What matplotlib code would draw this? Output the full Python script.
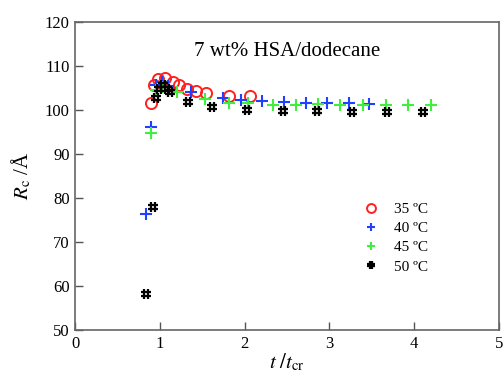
import matplotlib
matplotlib.use('Agg')
import matplotlib.pyplot as plt
from matplotlib.path import Path

plt.rcParams['font.family'] = ['Liberation Serif', 'DejaVu Serif']
plt.rcParams['mathtext.fontset'] = 'stix'

# 35 C
t35 = [0.90, 0.93, 0.98, 1.06, 1.16, 1.22, 1.32, 1.43, 1.54, 1.81, 2.06]
r35 = [101.5, 105.8, 107.0, 107.3, 106.4, 105.7, 104.9, 104.4, 103.8, 103.3, 103.3]
# 40 C
t40 = [0.84, 0.90, 0.96, 1.02, 1.10, 1.37, 1.74, 1.96, 2.21, 2.47, 2.72, 2.97, 3.23, 3.47]
r40 = [76.3, 96.2, 105.7, 106.4, 105.4, 104.2, 102.7, 102.3, 102.0, 101.9, 101.5, 101.7, 101.5, 101.3]
# 45 C
t45 = [0.90, 0.96, 1.02, 1.20, 1.53, 1.81, 2.04, 2.34, 2.61, 2.87, 3.12, 3.40, 3.67, 3.93, 4.20]
r45 = [94.7, 104.5, 105.2, 104.2, 102.4, 101.5, 101.5, 101.1, 101.1, 101.4, 101.1, 101.1, 101.1, 101.1, 101.1]
# 50 C
t50 = [0.84, 0.92, 0.95, 0.99, 1.04, 1.08, 1.12, 1.33, 1.62, 2.03, 2.45, 2.85, 3.27, 3.68, 4.10]
r50 = [58.2, 78.0, 102.7, 104.9, 105.7, 104.9, 104.2, 101.9, 100.8, 100.0, 99.8, 99.8, 99.5, 99.6, 99.5]

labels = ['35 ºC', '40 ºC', '45 ºC', '50 ºC']

# hash-shaped marker
hash_marker = Path(
    [(-0.35, -1), (-0.35, 1), (0.35, -1), (0.35, 1),
     (-1, -0.35), (1, -0.35), (-1, 0.35), (1, 0.35)],
    [Path.MOVETO, Path.LINETO] * 4)

fig = plt.figure(figsize=(5.04, 3.81), dpi=100)
ax = fig.add_axes([0.149, 0.134, 0.841, 0.808])

ax.plot(t35, r35, 'o', ms=8, mfc='none', mec='#ff2020', mew=1.4, label=labels[0])
ax.plot(t40, r40, '+', ms=8, color='#2040ff', mew=1.5, label=labels[1])
ax.plot(t45, r45, '+', ms=8, color='#40ee40', mew=1.5, label=labels[2])
ax.plot(t50, r50, ls='none', marker=hash_marker, ms=7, color='black', mew=1.6, label=labels[3])

ax.set_xlim(0, 5)
ax.set_ylim(50, 120)
ax.set_xticks(range(0, 6))
ax.set_yticks(range(50, 121, 10))
ax.tick_params(direction='in', length=6, width=1, color='#555555', labelsize=12, pad=4)
for s in ax.spines.values():
    s.set_color('#666666')
    s.set_linewidth(1.2)

ax.set_xlabel(r'$t\ /t_\mathrm{cr}$', fontsize=15, labelpad=0)
ax.set_ylabel(r'$R_\mathrm{c}$ /Å', fontsize=15, labelpad=8)

ax.text(0.5, 0.905, '7 wt% HSA/dodecane', transform=ax.transAxes,
        ha='center', va='center', fontsize=15)

ax.legend(loc='upper left', bbox_to_anchor=(0.645, 0.458), frameon=False,
          fontsize=11, handletextpad=0.9, labelspacing=0.35, handlelength=1.2,
          markerscale=0.8)

fig.savefig('out.png', dpi=100)
